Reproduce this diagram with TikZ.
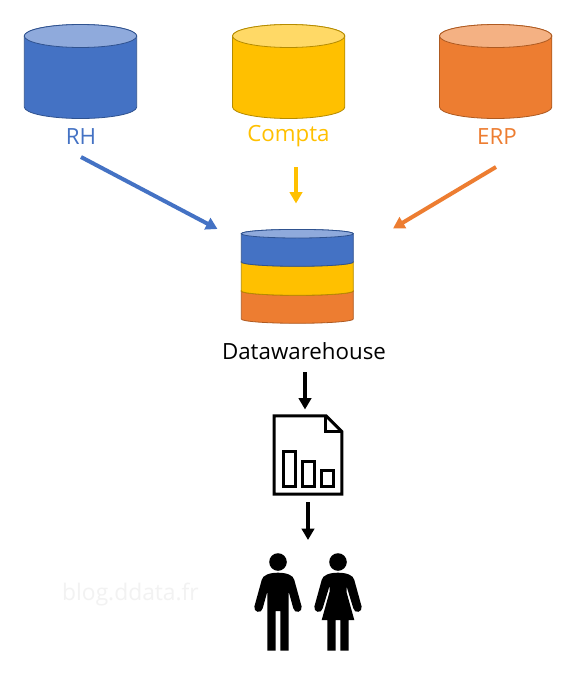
\documentclass[tikz,border=0pt]{standalone}
\usepackage{fontspec}
\setmainfont{Open Sans}
\usetikzlibrary{arrows.meta}
\definecolor{cblue}{HTML}{4472C4}\definecolor{cbluet}{HTML}{8FAADC}\definecolor{cbluel}{HTML}{2F528F}
\definecolor{cyel}{HTML}{FFC000}\definecolor{cyelt}{HTML}{FFD966}\definecolor{cyell}{HTML}{B58B00}
\definecolor{cora}{HTML}{ED7D31}\definecolor{corat}{HTML}{F4B183}\definecolor{coral2}{HTML}{AE5A21}
\tikzset{
 lab/.style={font=\fontsize{22.3}{26}\selectfont,inner sep=0pt,anchor=center},
 flow/.style={line width=4pt,-{Triangle[length=11.5pt,width=12.5pt]}},
 doc/.style={line width=3pt,miter limit=10,draw=black,fill=white},
 bar/.style={line width=3pt,draw=black,fill=white},
 pers/.style={fill=black,draw=none}
}
% #1 x left, #2 x right, #3 y of top ellipse centre, #4 y of lower ellipse centre, #5 ry, #6 fill, #7 top fill, #8 line
\newcommand{\cyl}[8]{%
 \pgfmathsetmacro{\mx}{(#1+#2)/2}\pgfmathsetmacro{\rx}{(#2-#1)/2}%
 \draw[fill=#6,draw=#8,line width=0.8pt] (#1,#3) -- (#1,#4) arc[start angle=180,end angle=0,x radius=\rx,y radius=#5] -- (#2,#3) arc[start angle=0,end angle=-180,x radius=\rx,y radius=#5] -- cycle;
 \draw[fill=#7,draw=#8,line width=0.8pt] (\mx,#3) ellipse[x radius=\rx,y radius=#5];
}
\begin{document}
\begin{tikzpicture}[x=1pt,y=-1pt]
\useasboundingbox[fill=white] (0,0) rectangle (578,675);
% source databases
\cyl{24.3}{136.7}{36}{107}{11.5}{cblue}{cbluet}{cbluel}
\cyl{232.5}{344.8}{36}{107}{11.5}{cyel}{cyelt}{cyell}
\cyl{439.5}{551.8}{36}{107}{11.5}{cora}{corat}{coral2}
\node[lab,text=cblue] (rh) at (81,137) {RH};
\node[lab,text=cyel] (compta) at (288.5,136.5) {Compta};
\node[lab,text=cora] (erp) at (497,137) {ERP};
% data warehouse (drawn bottom to top)
\cyl{241.3}{353.3}{291}{319}{4.3}{cora}{cora}{coral2}
\cyl{241.3}{353.3}{262}{291}{4.3}{cyel}{cyel}{cyell}
\cyl{241.3}{353.3}{233.7}{262}{4.3}{cblue}{cbluet}{cbluel}
\node[lab] (dw) at (304,351.5) {Datawarehouse};
% connector ends
\coordinate (a1) at (81,157); \coordinate (a2) at (217.5,229);
\coordinate (b1) at (296,167); \coordinate (b2) at (296,203.5);
\coordinate (c1) at (496,167); \coordinate (c2) at (393,228.5);
\coordinate (d1) at (305,372); \coordinate (d2) at (305,409.5);
\coordinate (e1) at (308,502); \coordinate (e2) at (308,540);
\draw[flow,cblue] (a1) -- (a2);
\draw[flow,cyel] (b1) -- (b2);
\draw[flow,cora] (c1) -- (c2);
\draw[flow,black] (d1) -- (d2);
\draw[flow,black] (e1) -- (e2);
% report icon
\draw[doc] (274.2,415.8) -- (326,415.8) -- (341.8,431.5) -- (341.8,494.2) -- (274.2,494.2) -- cycle;
\draw[line width=3pt,line join=miter] (325,415.8) -- (325,431.5) -- (341.8,431.5);
\draw[bar] (283.2,451.3) rectangle (295,486);
\draw[bar] (302.2,461.2) rectangle (314,486);
\draw[bar] (321.5,470.8) rectangle (333.7,486);
% man
\fill[pers] (278,562) circle[radius=8.8];
\fill[pers] (278,572.7) .. controls (270,572.7) and (262.5,575) .. (261.7,580)
 -- (254.4,606.5) .. controls (253.3,612.5) and (261.5,614) .. (262.7,608.3)
 -- (267.3,591.7) -- (267.3,650.5) -- (275.7,650.5) -- (275.7,611) -- (280.3,611) -- (280.3,650.5) -- (288.7,650.5) -- (288.7,591.7)
 -- (293.3,608.3) .. controls (294.5,614) and (302.7,612.5) .. (301.6,606.5)
 -- (294.3,580) .. controls (293.5,575) and (286,572.7) .. (278,572.7) -- cycle;
% woman
\fill[pers] (338,572.7) .. controls (330,572.7) and (322.5,575) .. (321.7,580)
 -- (314.4,606.5) .. controls (313.3,612.5) and (321.5,614) .. (322.7,608.3)
 -- (329.5,586) -- (329.5,592) -- (321.7,620) -- (327.3,620) -- (327.3,650.5) -- (335.7,650.5) -- (335.7,620) -- (340.3,620) -- (340.3,650.5) -- (348.7,650.5) -- (348.7,620) -- (354.3,620)
 -- (346.5,592) -- (346.5,586) -- (353.3,608.3) .. controls (354.5,614) and (362.7,612.5) .. (361.6,606.5)
 -- (354.3,580) .. controls (353.5,575) and (346,572.7) .. (338,572.7) -- cycle;
\fill[pers] (338,562) circle[radius=8.8];
% watermark
\node[lab,text=black!5,font=\fontsize{22.8}{26}\selectfont] (wm) at (130.5,595) {blog.ddata.fr};
\end{tikzpicture}
\end{document}
